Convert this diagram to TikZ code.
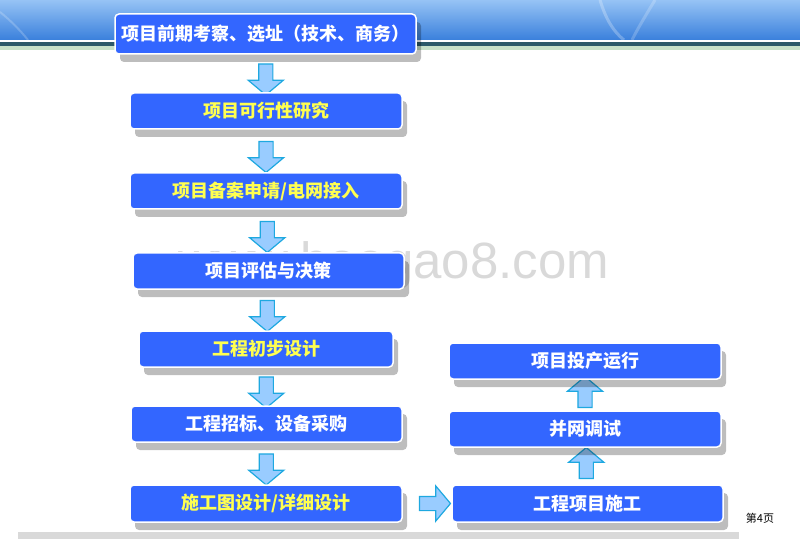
\documentclass[tikz,border=0pt]{standalone}
\usepackage{fontspec}
\newfontfamily\cjk{Noto Sans CJK SC}
\newfontfamily\wmfont{Liberation Sans}
\usetikzlibrary{positioning, calc, shapes.arrows, shadows}
\definecolor{boxblue}{RGB}{51,102,255}
\definecolor{arrowfill}{RGB}{153,204,255}
\definecolor{arrowline}{RGB}{30,168,224}
\definecolor{txtyellow}{RGB}{255,255,80}
\definecolor{bandtop}{RGB}{150,195,245}
\definecolor{bandmid}{RGB}{72,142,230}
\definecolor{bandbot}{RGB}{58,128,220}
\definecolor{bandline}{RGB}{45,90,105}
\definecolor{bandgreen}{RGB}{200,225,200}
\pgfdeclarelayer{back}
\pgfsetlayers{back,main}

\begin{document}
\begin{tikzpicture}[x=1pt, y=-1pt,
  stepbox/.style={rectangle, rounded corners=4pt, fill=boxblue, draw=white, line width=1.5pt,
    minimum height=36pt, text=white, font=\cjk\bfseries\fontsize{18}{20}\selectfont,
    drop shadow={shadow xshift=5pt, shadow yshift=-8pt, fill=black, opacity=.26}},
  hl/.style={text=txtyellow},
  blk/.style={single arrow, draw=arrowline, fill=arrowfill, line width=1.2pt, minimum height=31pt,
    inner sep=6.5pt, single arrow head extend=10.5pt, single arrow tip angle=100},
]
  \useasboundingbox (0,0) rectangle (800,545);

  %% title band
  \shade[top color=bandtop, middle color=bandmid, bottom color=bandbot] (0,0) rectangle (800,40);
  \draw[white, opacity=.25, line width=3pt] (600,0) .. controls (606,20) and (614,32) .. (624,40);
  \draw[white, opacity=.2, line width=3pt] (655,0) .. controls (646,15) and (638,28) .. (632,40);
  \draw[white, opacity=.2, line width=2pt] (0,12) .. controls (10,20) and (20,30) .. (28,40);
  \fill[white] (0,40) rectangle (800,42.5);
  \fill[bandline] (0,42.5) rectangle (800,46);
  \fill[bandgreen] (0,46) rectangle (800,50);
  \fill[black!15] (18,532) rectangle (739,539);

  \begin{pgfonlayer}{back}
    \node[anchor=base west, inner sep=0, text=black!15, font=\wmfont\fontsize{51}{52}\selectfont] (wm) at (178,279) {www.baogao8.com};
  \end{pgfonlayer}

  %% left column
  \node[stepbox, minimum width=301pt, minimum height=40pt] (survey) at (265.5,34) {项目前期考察、选址（技术、商务）};
  \node[stepbox, hl, minimum width=272pt] (feasib) at (266,111) {项目可行性研究};
  \node[stepbox, hl, minimum width=272pt] (record) at (266,191) {项目备案申请/电网接入};
  \node[stepbox, minimum width=271pt] (evalu) at (268.5,271) {项目评估与决策};
  \node[stepbox, hl, minimum width=254pt] (prelim) at (266,349) {工程初步设计};
  \node[stepbox, minimum width=271pt] (tender) at (266.5,424) {工程招标、设备采购};
  \node[stepbox, hl, minimum width=272pt, minimum height=37pt] (detail) at (266,503.5) {施工图设计/详细设计};

  %% right column
  \node[stepbox, minimum width=271pt, minimum height=37pt] (build) at (587.5,503.5) {工程项目施工};
  \node[stepbox, minimum width=272pt] (gridtest) at (585,429) {并网调试};
  \node[stepbox, minimum width=272pt] (operate) at (585,361) {项目投产运行};

  \node[font=\cjk\fontsize{11}{12}\selectfont] (pg) at (760,518) {第4页};

  \begin{pgfonlayer}{back}
    \foreach \a/\b/\n in {survey/feasib/1, feasib/record/2, record/evalu/3, evalu/prelim/4, prelim/tender/5, tender/detail/6}
      \node[blk, shape border rotate=270] (dn\n) at ($(\a.south)!.5!(\b.north)+(0,3)$) {};
    \node[blk] (rt) at ($(detail.east)!.5!(build.west)+(5,0)$) {};
    \node[blk, shape border rotate=90] (up1) at ($(build.north)!.5!(gridtest.south)$) {};
    \node[blk, shape border rotate=90] (up2) at ($(gridtest.north)!.5!(operate.south)$) {};
  \end{pgfonlayer}
\end{tikzpicture}
\end{document}
